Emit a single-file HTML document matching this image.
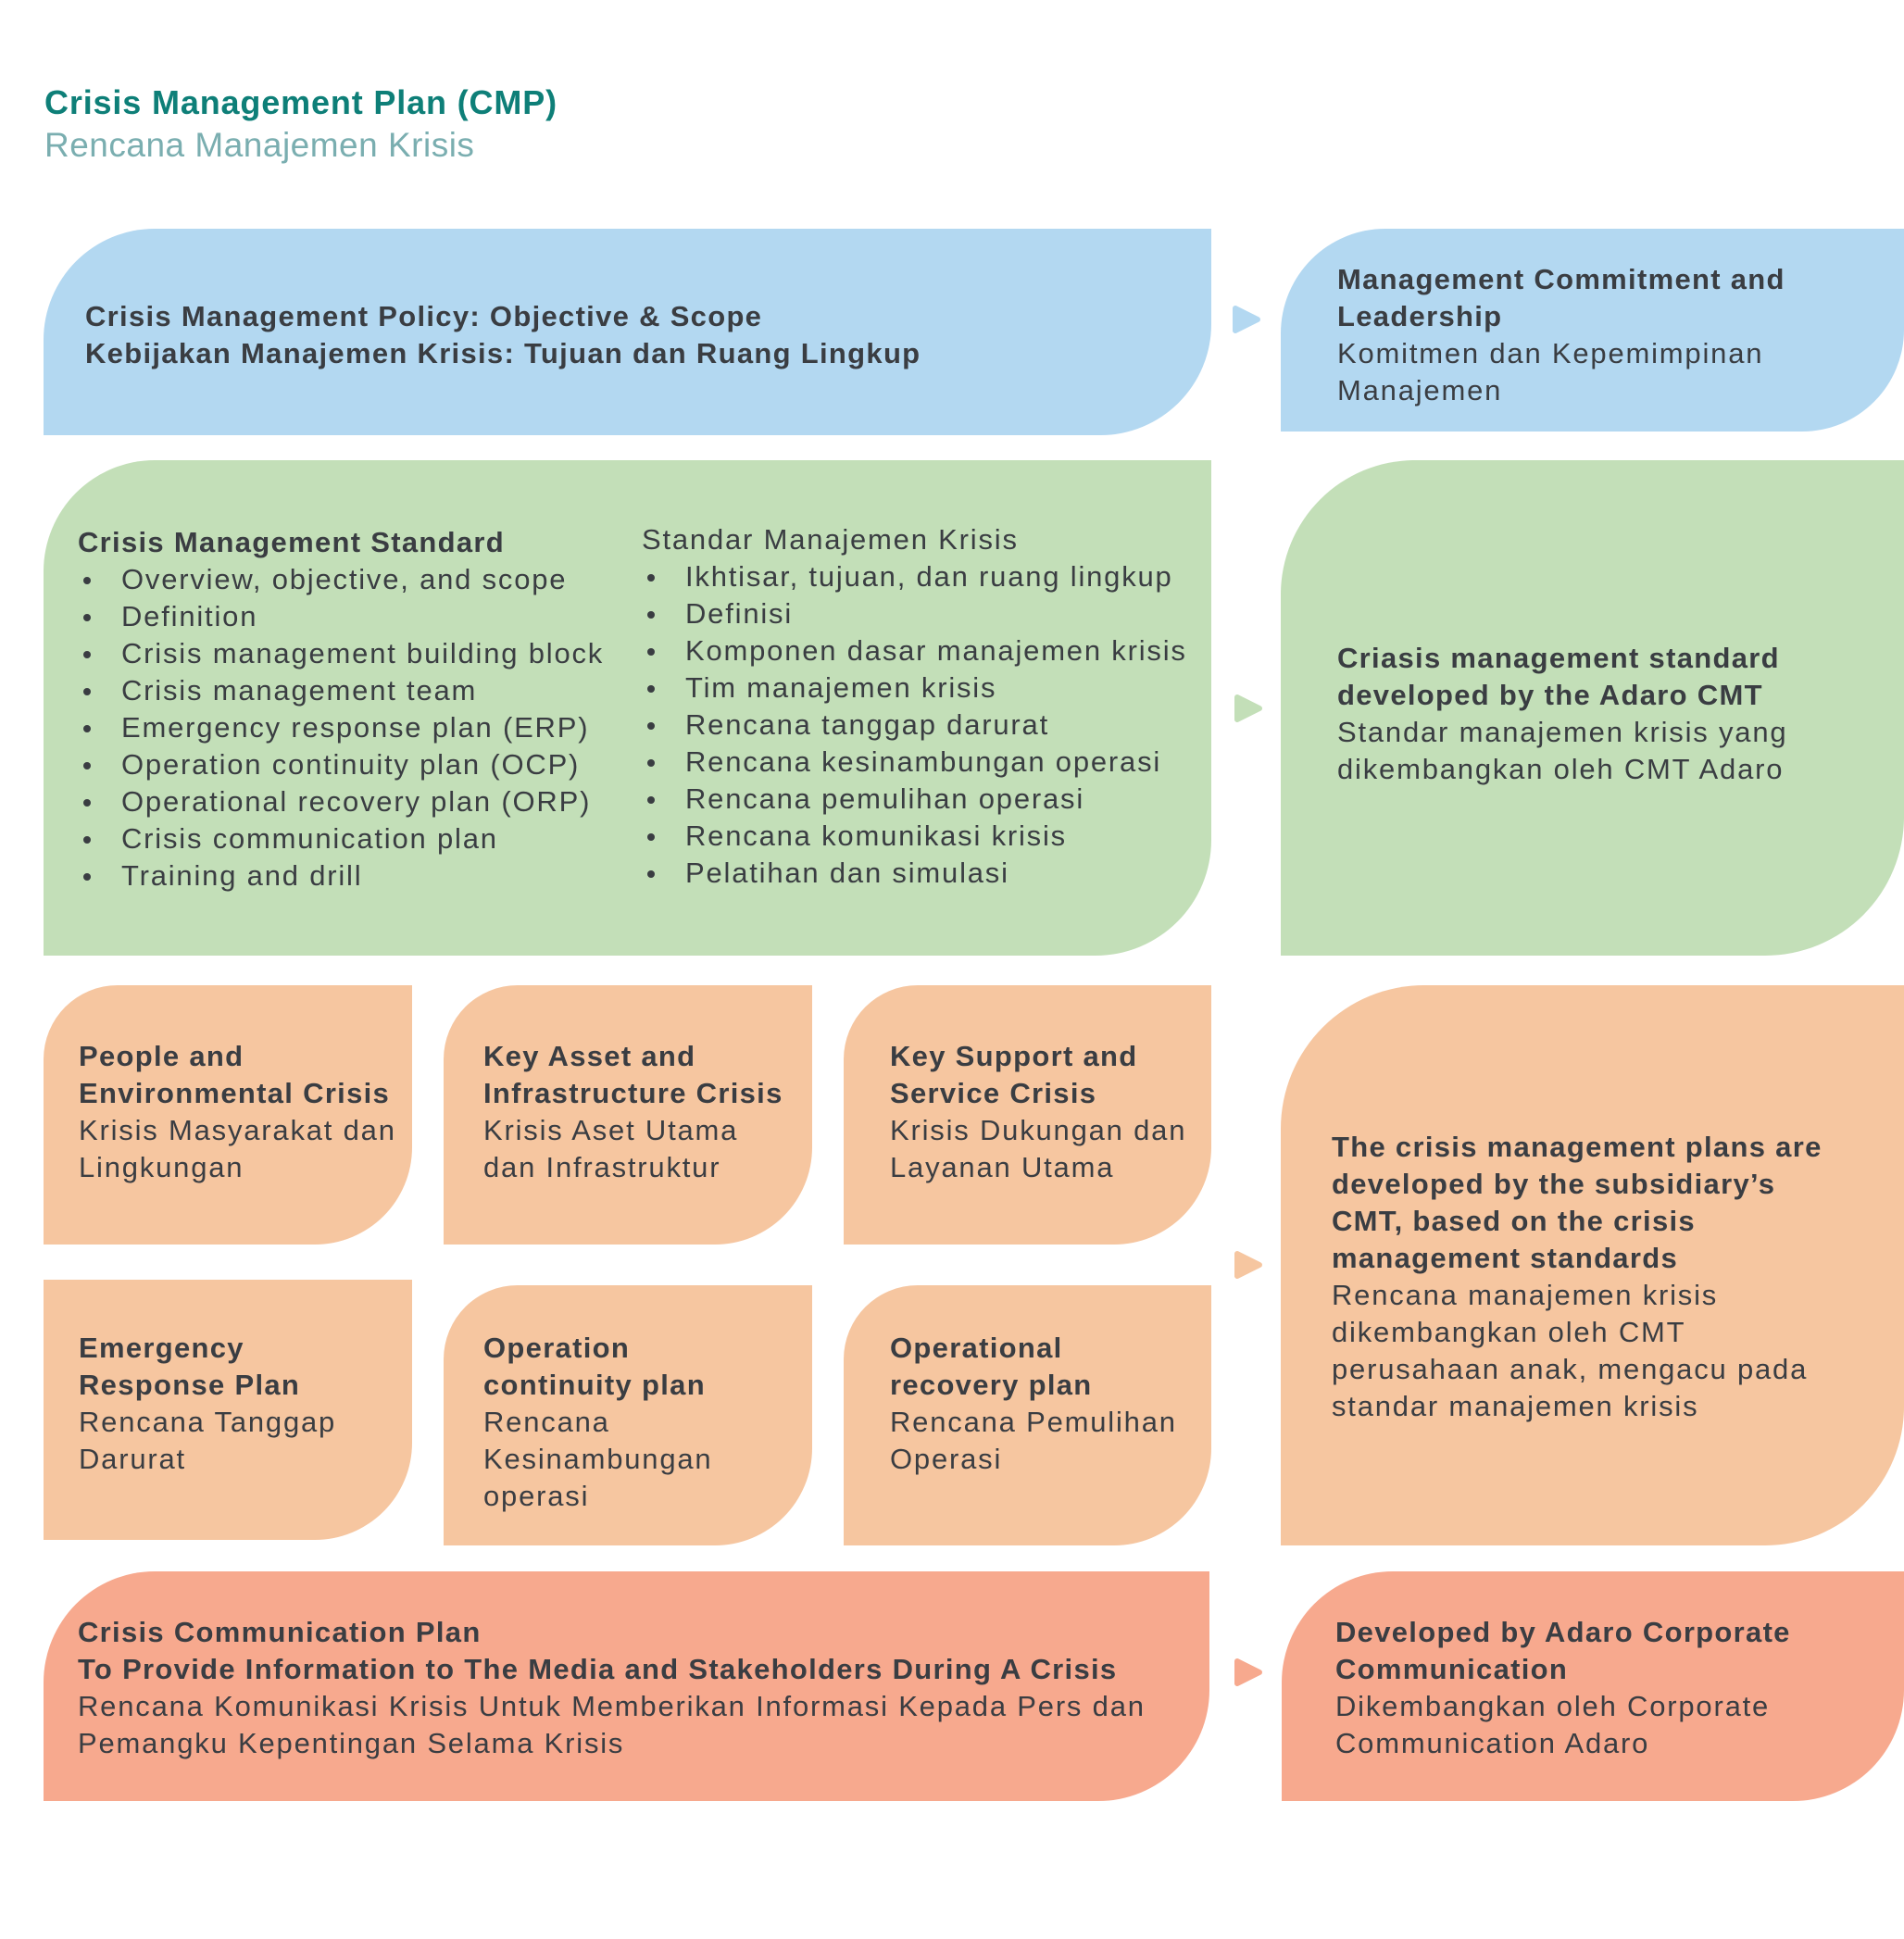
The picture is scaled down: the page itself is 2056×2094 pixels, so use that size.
<!DOCTYPE html>
<html><head><meta charset="utf-8"><style>
body{margin:0;width:2056px;height:2094px;background:#fff;position:relative;overflow:hidden;font-family:"Liberation Sans",sans-serif;color:#3a3d42}
.b{position:absolute}
.t{position:absolute;font-size:31px;line-height:40px;white-space:nowrap;letter-spacing:1.8px}
.t b{font-weight:bold;letter-spacing:1.3px}
ul{margin:0;padding:0;list-style:none}
li{position:relative;padding-left:47px}
li:before{content:"";position:absolute;left:6px;top:17px;width:8px;height:8px;border-radius:50%;background:#3a3d42}
</style></head><body>
<div class="b" style="left:48px;top:90px;font-size:36px;font-weight:bold;color:#0e7f78;white-space:nowrap;letter-spacing:0.85px">Crisis Management Plan (CMP)</div>
<div class="b" style="left:48px;top:136px;font-size:37px;color:#7aaeb0;white-space:nowrap;letter-spacing:0.5px">Rencana Manajemen Krisis</div>

<div class="b" style="left:47px;top:247px;width:1261px;height:223px;background:#b3d8f1;border-radius:120px 0 120px 0"></div>
<div class="b" style="left:1383px;top:247px;width:673px;height:219px;background:#b3d8f1;border-radius:113px 0 110px 0"></div>
<div class="t" style="left:92px;top:322px"><b>Crisis Management Policy: Objective &amp; Scope<br>Kebijakan Manajemen Krisis: Tujuan dan Ruang Lingkup</b></div>
<div class="t" style="left:1444px;top:282px"><b>Management Commitment and<br>Leadership</b><br>Komitmen dan Kepemimpinan<br>Manajemen</div>

<div class="b" style="left:47px;top:497px;width:1261px;height:535px;background:#c3dfb8;border-radius:120px 0 125px 0"></div>
<div class="b" style="left:1383px;top:497px;width:673px;height:535px;background:#c3dfb8;border-radius:145px 0 150px 0"></div>
<div class="t" style="left:84px;top:566px"><b>Crisis Management Standard</b>
<ul><li>Overview, objective, and scope</li><li>Definition</li><li>Crisis management building block</li><li>Crisis management team</li><li>Emergency response plan (ERP)</li><li>Operation continuity plan (OCP)</li><li>Operational recovery plan (ORP)</li><li>Crisis communication plan</li><li>Training and drill</li></ul></div>
<div class="t" style="left:693px;top:563px">Standar Manajemen Krisis
<ul><li>Ikhtisar, tujuan, dan ruang lingkup</li><li>Definisi</li><li>Komponen dasar manajemen krisis</li><li>Tim manajemen krisis</li><li>Rencana tanggap darurat</li><li>Rencana kesinambungan operasi</li><li>Rencana pemulihan operasi</li><li>Rencana komunikasi krisis</li><li>Pelatihan dan simulasi</li></ul></div>
<div class="t" style="left:1444px;top:691px"><b>Criasis management standard<br>developed by the Adaro CMT</b><br>Standar manajemen krisis yang<br>dikembangkan oleh CMT Adaro</div>

<div class="b" style="left:47px;top:1064px;width:398px;height:280px;background:#f6c6a0;border-radius:80px 0 105px 0"></div>
<div class="b" style="left:479px;top:1064px;width:398px;height:280px;background:#f6c6a0;border-radius:80px 0 105px 0"></div>
<div class="b" style="left:911px;top:1064px;width:397px;height:280px;background:#f6c6a0;border-radius:80px 0 105px 0"></div>
<div class="b" style="left:47px;top:1382px;width:398px;height:281px;background:#f6c6a0;border-radius:0 0 105px 0"></div>
<div class="b" style="left:479px;top:1388px;width:398px;height:281px;background:#f6c6a0;border-radius:80px 0 105px 0"></div>
<div class="b" style="left:911px;top:1388px;width:397px;height:281px;background:#f6c6a0;border-radius:80px 0 105px 0"></div>
<div class="b" style="left:1383px;top:1064px;width:673px;height:605px;background:#f6c6a0;border-radius:155px 0 150px 0"></div>
<div class="t" style="left:85px;top:1121px"><b>People and<br>Environmental Crisis</b><br>Krisis Masyarakat dan<br>Lingkungan</div>
<div class="t" style="left:522px;top:1121px"><b>Key Asset and<br>Infrastructure Crisis</b><br>Krisis Aset Utama<br>dan Infrastruktur</div>
<div class="t" style="left:961px;top:1121px"><b>Key Support and<br>Service Crisis</b><br>Krisis Dukungan dan<br>Layanan Utama</div>
<div class="t" style="left:85px;top:1436px"><b>Emergency<br>Response Plan</b><br>Rencana Tanggap<br>Darurat</div>
<div class="t" style="left:522px;top:1436px"><b>Operation<br>continuity plan</b><br>Rencana<br>Kesinambungan<br>operasi</div>
<div class="t" style="left:961px;top:1436px"><b>Operational<br>recovery plan</b><br>Rencana Pemulihan<br>Operasi</div>
<div class="t" style="left:1438px;top:1219px"><b>The crisis management plans are<br>developed by the subsidiary’s<br>CMT, based on the crisis<br>management standards</b><br>Rencana manajemen krisis<br>dikembangkan oleh CMT<br>perusahaan anak, mengacu pada<br>standar manajemen krisis</div>

<div class="b" style="left:47px;top:1697px;width:1259px;height:248px;background:#f7a98e;border-radius:120px 0 120px 0"></div>
<div class="b" style="left:1384px;top:1697px;width:672px;height:248px;background:#f7a98e;border-radius:120px 0 120px 0"></div>
<div class="t" style="left:84px;top:1743px"><b>Crisis Communication Plan<br>To Provide Information to The Media and Stakeholders During A Crisis</b><br>Rencana Komunikasi Krisis Untuk Memberikan Informasi Kepada Pers dan<br>Pemangku Kepentingan Selama Krisis</div>
<div class="t" style="left:1442px;top:1743px"><b>Developed by Adaro Corporate<br>Communication</b><br>Dikembangkan oleh Corporate<br>Communication Adaro</div>

<svg class="b" style="left:0;top:0" width="2056" height="2094">
<g stroke-linejoin="round" stroke-width="6">
<path d="M1334,333 L1358,345 L1334,357 Z" fill="#b3d8f1" stroke="#b3d8f1"/>
<path d="M1336,753 L1360,765 L1336,777 Z" fill="#c3dfb8" stroke="#c3dfb8"/>
<path d="M1336,1354 L1360,1366 L1336,1378 Z" fill="#f6c6a0" stroke="#f6c6a0"/>
<path d="M1336,1794 L1360,1806 L1336,1818 Z" fill="#f7a98e" stroke="#f7a98e"/>
</g></svg>
</body></html>
